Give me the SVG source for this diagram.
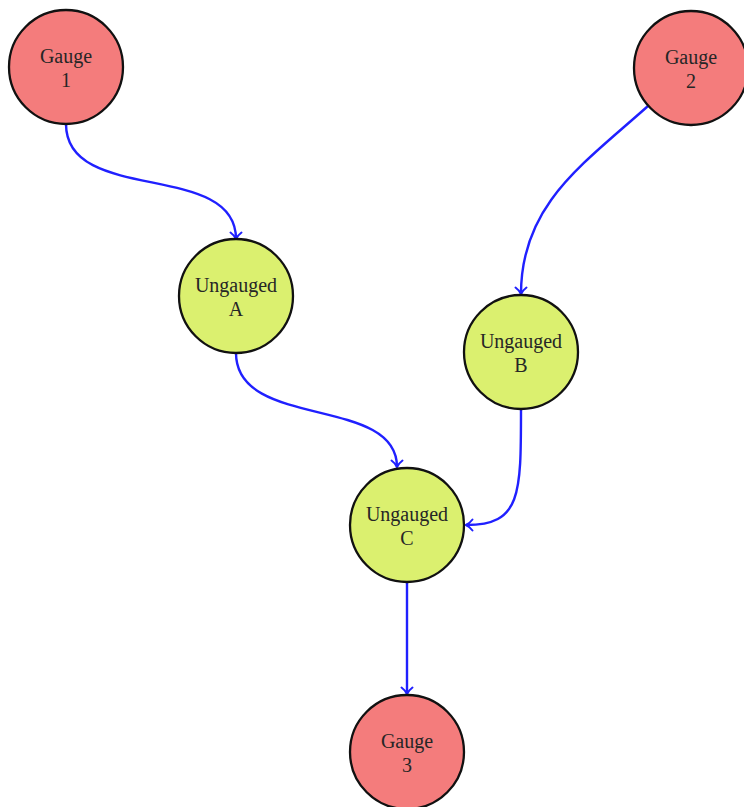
<svg xmlns="http://www.w3.org/2000/svg" width="744" height="807" viewBox="0 0 744 807">
  <style>
    .gauge circle { fill: #f47c7c; stroke: #111; stroke-width: 2.3; }
    .ungauged circle { fill: #dbf06f; stroke: #111; stroke-width: 2.3; }
    text { font-family: "Liberation Serif", "DejaVu Serif", serif; font-size: 20px; fill: #262626; text-anchor: middle; }
    .edge { fill: none; stroke: #2020ff; stroke-width: 2.4; marker-end: url(#tip); }
  </style>
  <defs>
    <marker id="tip" markerWidth="14" markerHeight="14" refX="9" refY="7" orient="auto" markerUnits="userSpaceOnUse">
      <path d="M2.5,1.5 Q5.5,5.5 9,7 Q5.5,8.5 2.5,12.5" fill="none" stroke="#2020ff" stroke-width="2" stroke-linecap="round"/>
    </marker>
  </defs>
  <rect width="744" height="807" fill="#ffffff"/>

  <g id="connectors">
    <path class="edge" d="M66,124 C66,205 236,160 236,239"/>
    <path class="edge" d="M648,106 C582,165 521,205 521,294"/>
    <path class="edge" d="M236,353 C236,430 397,395 397,467"/>
    <path class="edge" d="M521,409 C521,495 521,525 466,525"/>
    <path class="edge" d="M407,582 L407,694"/>
  </g>

  <g id="gauge1" class="gauge">
    <circle cx="66" cy="67" r="57"/>
    <text x="66" y="63">Gauge</text>
    <text x="66" y="87">1</text>
  </g>
  <g id="gauge2" class="gauge">
    <circle cx="691" cy="68" r="57"/>
    <text x="691" y="64">Gauge</text>
    <text x="691" y="88">2</text>
  </g>
  <g id="ungaugedA" class="ungauged">
    <circle cx="236" cy="296" r="57"/>
    <text x="236" y="292">Ungauged</text>
    <text x="236" y="316">A</text>
  </g>
  <g id="ungaugedB" class="ungauged">
    <circle cx="521" cy="352" r="57"/>
    <text x="521" y="348">Ungauged</text>
    <text x="521" y="372">B</text>
  </g>
  <g id="ungaugedC" class="ungauged">
    <circle cx="407" cy="525" r="57"/>
    <text x="407" y="521">Ungauged</text>
    <text x="407" y="545">C</text>
  </g>
  <g id="gauge3" class="gauge">
    <circle cx="407" cy="752" r="57"/>
    <text x="407" y="748">Gauge</text>
    <text x="407" y="772">3</text>
  </g>
</svg>
